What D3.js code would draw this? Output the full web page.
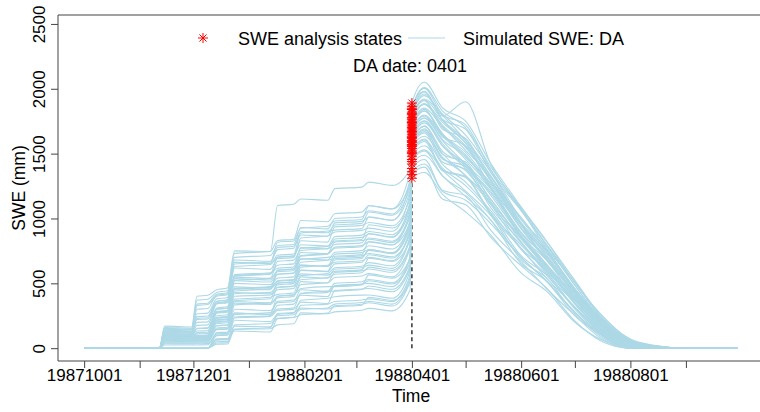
<!DOCTYPE html>
<html lang="en">
<head>
    <meta charset="UTF-8">
    <title>SWE DA 0401</title>
    <script src="https://cdn.jsdelivr.net/npm/d3@7"></script>
    <style>
        body { margin: 0; background: #fff; overflow: hidden; }
        text { font-family: "Liberation Sans", Arial, sans-serif; fill: #000; }
    </style>
</head>
<body>
<script>
    // knot dates of the ensemble before the update (open loop) and after it
    const preDates = ['19871001', '19871112', '19871115', '19871130', '19871203', '19871209', '19871214',
        '19871220', '19871224', '19880113', '19880117', '19880126', '19880130', '19880214', '19880218',
        '19880304', '19880308', '19880321', '19880331']
    const postDates = ['19880408', '19880418', '19880501', '19880515', '19880601', '19880615', '19880701',
        '19880715', '19880801', '19880815', '19880901', '19880930']
    const daDate = '19880401'

    const analysisStates = [1600, 1455, 1735, 1520, 1800, 1385, 1660, 1570, 1890, 1480, 1705, 1310, 1630, 1765, 1540,
        1840, 1420, 1690, 1585, 1750, 1500, 1865, 1615, 1340, 1720, 1555, 1780, 1645, 1820, 1675,
        1625, 1440, 1775, 1510, 1700, 1360, 1810, 1565, 1850, 1595, 1740, 1670]

    const forecastSWE = [
        [0, 0, 0, 0, 0, 0, 30, 32, 145, 150, 180, 188, 272, 265, 280, 292, 307, 288, 450],
        [0, 0, 0, 0, 0, 0, 64, 66, 133, 125, 227, 236, 258, 270, 327, 339, 350, 325, 515],
        [0, 0, 0, 0, 0, 0, 72, 75, 145, 160, 267, 275, 310, 302, 319, 331, 393, 368, 506],
        [0, 0, 0, 0, 0, 0, 64, 66, 215, 205, 260, 270, 370, 385, 397, 409, 410, 385, 599],
        [0, 0, 0, 0, 0, 0, 97, 100, 233, 245, 290, 300, 355, 345, 444, 456, 460, 435, 620],
        [0, 0, 34, 33, 34, 35, 101, 104, 271, 260, 301, 311, 423, 438, 440, 452, 479, 454, 636],
        [0, 0, 41, 39, 41, 42, 148, 152, 259, 274, 361, 371, 408, 398, 483, 495, 500, 475, 701],
        [0, 0, 48, 46, 48, 49, 156, 161, 271, 261, 401, 411, 460, 475, 475, 487, 565, 540, 692],
        [0, 0, 53, 51, 53, 54, 143, 147, 334, 349, 388, 398, 513, 503, 545, 557, 575, 550, 776],
        [0, 0, 58, 56, 58, 59, 173, 178, 347, 337, 400, 410, 490, 505, 584, 596, 610, 585, 780],
        [0, 0, 63, 60, 63, 64, 173, 178, 378, 393, 415, 425, 550, 540, 570, 582, 625, 600, 794],
        [0, 0, 68, 65, 68, 69, 215, 221, 359, 349, 468, 478, 528, 543, 608, 620, 640, 615, 850],
        [0, 0, 73, 70, 73, 74, 219, 226, 366, 381, 502, 512, 573, 563, 592, 604, 694, 669, 831],
        [0, 0, 78, 75, 78, 80, 206, 212, 429, 419, 488, 498, 625, 640, 662, 674, 700, 675, 915],
        [0, 0, 83, 80, 83, 85, 236, 243, 441, 456, 500, 510, 603, 593, 701, 713, 730, 705, 878],
        [0, 0, 88, 84, 88, 90, 236, 243, 473, 463, 515, 525, 663, 678, 690, 702, 754, 729, 934],
        [0, 0, 94, 90, 94, 96, 278, 286, 454, 469, 569, 579, 640, 630, 725, 737, 760, 735, 989],
        [0, 0, 99, 95, 99, 101, 282, 290, 460, 450, 602, 612, 685, 700, 709, 721, 823, 798, 971],
        [0, 0, 104, 100, 110, 112, 280, 288, 523, 538, 589, 599, 738, 728, 779, 791, 820, 795, 1055],
        [0, 0, 109, 105, 132, 135, 299, 308, 536, 526, 600, 610, 715, 730, 818, 830, 840, 815, 1017],
        [0, 0, 114, 109, 154, 157, 310, 319, 567, 582, 616, 626, 775, 765, 800, 812, 883, 858, 1073],
        [0, 0, 119, 114, 176, 180, 341, 351, 548, 538, 669, 679, 753, 768, 842, 854, 880, 855, 1129],
        [0, 0, 124, 119, 199, 203, 345, 355, 555, 570, 703, 713, 798, 788, 826, 838, 952, 927, 1110],
        [0, 0, 129, 124, 221, 225, 350, 360, 618, 608, 689, 699, 850, 865, 896, 908, 926, 901, 1194],
        [0, 0, 134, 129, 243, 248, 362, 373, 630, 645, 700, 710, 828, 818, 935, 947, 969, 944, 1157],
        [0, 0, 139, 133, 265, 270, 380, 391, 662, 652, 716, 726, 888, 903, 910, 922, 1012, 987, 1213],
        [0, 0, 146, 140, 300, 306, 408, 420, 649, 664, 776, 786, 873, 863, 966, 978, 1010, 985, 1278],
        [0, 0, 153, 147, 340, 347, 416, 428, 662, 652, 817, 827, 925, 940, 980, 992, 1098, 1073, 1268],
        [0, 0, 160, 154, 370, 377, 430, 443, 731, 746, 830, 840, 985, 975, 1037, 1049, 1100, 1075, 1361],
        [0, 0, 170, 163, 400, 408, 450, 464, 750, 745, 1100, 1110, 1150, 1140, 1230, 1242, 1280, 1255, 1380],
        [0, 0, 0, 0, 0, 0, 40, 42, 180, 190, 230, 238, 330, 340, 360, 372, 380, 360, 560],
        [0, 0, 25, 24, 25, 26, 120, 124, 300, 290, 350, 360, 450, 440, 500, 512, 530, 505, 700],
        [0, 0, 60, 58, 60, 62, 190, 196, 400, 410, 450, 460, 560, 575, 620, 632, 660, 635, 860],
        [0, 0, 90, 86, 90, 92, 250, 258, 500, 490, 540, 550, 690, 680, 740, 752, 790, 765, 960],
        [0, 0, 110, 106, 150, 153, 300, 310, 560, 575, 640, 650, 770, 785, 860, 872, 900, 875, 1100],
        [0, 0, 130, 125, 230, 235, 360, 371, 680, 670, 760, 770, 900, 890, 950, 962, 1050, 1025, 1240],
        [0, 0, 0, 0, 0, 0, 110, 114, 240, 250, 330, 340, 420, 430, 480, 492, 520, 495, 660],
        [0, 0, 70, 67, 70, 72, 200, 206, 420, 430, 470, 480, 600, 590, 650, 662, 720, 695, 900],
        [0, 0, 100, 96, 120, 123, 270, 278, 520, 510, 570, 580, 710, 725, 770, 782, 850, 825, 1040],
        [0, 0, 150, 144, 330, 337, 400, 412, 700, 715, 790, 800, 930, 920, 1000, 1012, 1060, 1035, 1300],
        [0, 0, 0, 0, 0, 0, 50, 52, 170, 165, 250, 258, 300, 310, 340, 352, 360, 340, 540],
        [0, 0, 80, 77, 80, 82, 230, 237, 460, 475, 520, 530, 640, 630, 680, 692, 760, 735, 950]
    ]

    const updatedSWE = [
        [1714, 1495, 1435, 1132, 855, 610, 375, 161, 20, 0, 0, 0],
        [1529, 1375, 1211, 1024, 682, 542, 269, 123, 0, 0, 0, 0],
        [1881, 1713, 1526, 1318, 963, 710, 457, 220, 43, 6, 0, 0],
        [1613, 1375, 1323, 1042, 794, 590, 312, 125, 6, 0, 0, 0],
        [1947, 1806, 1642, 1375, 996, 788, 485, 231, 55, 12, 0, 0],
        [1455, 1218, 1176, 910, 667, 462, 253, 83, 0, 0, 0, 0],
        [1776, 1638, 1456, 1234, 861, 682, 385, 197, 30, 0, 0, 0],
        [1682, 1503, 1330, 1150, 820, 598, 365, 161, 15, 0, 0, 0],
        [2050, 1855, 1750, 1426, 1090, 830, 523, 260, 70, 20, 0, 0],
        [1561, 1390, 1253, 1042, 713, 566, 302, 115, 0, 0, 0, 0],
        [1841, 1630, 1561, 1240, 947, 682, 434, 199, 38, 4, 0, 0],
        [1354, 1188, 1050, 874, 580, 442, 200, 70, 0, 0, 0, 0],
        [1754, 1578, 1400, 1210, 871, 638, 398, 182, 25, 0, 0, 0],
        [1909, 1690, 1617, 1294, 1008, 758, 451, 213, 48, 9, 0, 0],
        [1634, 1473, 1330, 1108, 769, 610, 339, 138, 10, 0, 0, 0],
        [2003, 1803, 1722, 1378, 1065, 774, 510, 247, 61, 16, 0, 0],
        [1487, 1330, 1169, 988, 651, 518, 250, 110, 0, 0, 0, 0],
        [1827, 1656, 1474, 1273, 924, 680, 433, 204, 36, 3, 0, 0],
        [1691, 1458, 1400, 1108, 850, 634, 349, 148, 17, 0, 0, 0],
        [1887, 1743, 1582, 1324, 952, 754, 457, 213, 46, 8, 0, 0],
        [1594, 1368, 1316, 1030, 769, 542, 319, 125, 3, 0, 0, 0],
        [1980, 1790, 1900, 1420, 1080, 826, 504, 270, 66, 18, 0, 0],
        [1737, 1563, 1386, 1198, 861, 630, 391, 178, 23, 0, 0, 0],
        [1396, 1150, 1106, 856, 636, 466, 210, 60, 0, 0, 0, 0],
        [1851, 1705, 1547, 1294, 927, 734, 441, 203, 41, 6, 0, 0],
        [1659, 1435, 1379, 1084, 815, 578, 349, 144, 12, 0, 0, 0],
        [1921, 1795, 1603, 1360, 968, 766, 454, 241, 51, 10, 0, 0],
        [1773, 1600, 1421, 1228, 886, 650, 408, 188, 28, 0, 0, 0],
        [1976, 1765, 1687, 1354, 1059, 798, 484, 234, 58, 14, 0, 0],
        [1797, 1645, 1491, 1246, 886, 702, 415, 186, 33, 2, 0, 0],
        [1750, 1560, 1420, 1180, 860, 650, 380, 175, 24, 0, 0, 0],
        [1520, 1330, 1200, 990, 700, 520, 280, 105, 0, 0, 0, 0],
        [1915, 1760, 1600, 1330, 990, 760, 460, 225, 50, 9, 0, 0],
        [1605, 1420, 1280, 1060, 760, 565, 315, 130, 4, 0, 0, 0],
        [1830, 1650, 1510, 1260, 920, 700, 425, 200, 37, 3, 0, 0],
        [1420, 1210, 1140, 960, 700, 520, 270, 95, 0, 0, 0, 0],
        [1960, 1760, 1580, 1290, 950, 720, 430, 200, 40, 6, 0, 0],
        [1670, 1470, 1370, 1120, 810, 610, 350, 150, 14, 0, 0, 0],
        [2010, 1830, 1700, 1400, 1070, 805, 505, 250, 63, 16, 0, 0],
        [1710, 1520, 1410, 1150, 840, 625, 370, 165, 19, 0, 0, 0],
        [1880, 1720, 1560, 1300, 955, 745, 445, 212, 44, 7, 0, 0],
        [1790, 1610, 1480, 1230, 895, 690, 410, 190, 32, 1, 0, 0]
    ]

    const xTicks = ['19871001', '19871101', '19871201', '19880101', '19880201', '19880301', '19880401',
        '19880501', '19880601', '19880701', '19880801', '19880901']
    const xLabels = ['19871001', '19871201', '19880201', '19880401', '19880601', '19880801']
    const yTicks = [0, 500, 1000, 1500, 2000, 2500]
    const xLim = ['19871001', '19880930']
    const yLim = [0, 2470]

    const [width, height] = [760, 412]
    const plot = {left: 58, right: 764, top: 15, bottom: 361}
    const parse = d3.utcParse('%Y%m%d')
    const lineColor = '#add8e6'
    const axisColor = '#444'

    const svg = d3.select('body')
        .append('svg')
            .attr('width', width)
            .attr('height', height)

    // R style limits: 4% padding on both axes
    const xPad = (parse(xLim[1]) - parse(xLim[0])) * 0.04
    const x = d3.scaleUtc()
        .domain([new Date(+parse(xLim[0]) - xPad), new Date(+parse(xLim[1]) + xPad)])
        .range([plot.left, plot.right])
    const yPad = (yLim[1] - yLim[0]) * 0.04
    const y = d3.scaleLinear()
        .domain([yLim[0] - yPad, yLim[1] + yPad])
        .range([plot.bottom, plot.top])

    const renderAxes = () => {
        const xAxis = d3.axisBottom(x)
            .tickValues(xTicks.map(parse))
            .tickSize(7)
            .tickSizeOuter(0)
            .tickFormat(d => {
                const s = d3.utcFormat('%Y%m%d')(d)
                return xLabels.includes(s) ? s : ''
            })
        const gx = svg.append('g').attr('class', 'x-axis')
            .attr('transform', `translate(0, ${plot.bottom})`)
            .call(xAxis)
        gx.select('.domain').remove()
        gx.selectAll('line').attr('stroke', axisColor)
        gx.selectAll('text').attr('y', 20).attr('dy', 0).style('font-size', '17px')

        const yAxis = d3.axisLeft(y).tickValues(yTicks).tickSize(7).tickSizeOuter(0)
            .tickFormat(d3.format('d'))
        const gy = svg.append('g').attr('class', 'y-axis')
            .attr('transform', `translate(${plot.left}, 0)`)
            .call(yAxis)
        gy.select('.domain').remove()
        gy.selectAll('line').attr('stroke', axisColor)
        gy.selectAll('text')
            .attr('x', 0).attr('dy', 0)
            .attr('text-anchor', 'middle')
            .attr('transform', 'translate(-13, 0) rotate(-90)')
            .style('font-size', '17px')

        // box: top, left and bottom edges (the right edge falls outside the picture)
        const edges = [
            [plot.left, plot.top, plot.right, plot.top],
            [plot.left, plot.top, plot.left, plot.bottom],
            [plot.left, plot.bottom, plot.right, plot.bottom]
        ]
        svg.append('g').selectAll('line')
            .data(edges)
            .join('line')
                .attr('x1', d => d[0]).attr('y1', d => d[1])
                .attr('x2', d => d[2]).attr('y2', d => d[3])
                .attr('stroke', axisColor)
                .attr('stroke-width', 1)

        svg.append('text').text('SWE (mm)')
            .attr('transform', `translate(25, ${(plot.top + plot.bottom) / 2}) rotate(-90)`)
            .attr('text-anchor', 'middle').style('font-size', '17.5px')
        svg.append('text').text('Time')
            .attr('x', (plot.left + plot.right) / 2).attr('y', 402)
            .attr('text-anchor', 'middle').style('font-size', '17.5px')
    }

    const asterisk = (cx, cy, r) => {
        const q = r * Math.SQRT1_2
        return `M${cx - r},${cy}L${cx + r},${cy}M${cx},${cy - r}L${cx},${cy + r}` +
            `M${cx - q},${cy - q}L${cx + q},${cy + q}M${cx - q},${cy + q}L${cx + q},${cy - q}`
    }

    const renderEnsemble = () => {
        const xDA = x(parse(daDate))
        svg.append('line')
            .attr('x1', xDA).attr('x2', xDA)
            .attr('y1', y(0)).attr('y2', y(d3.min(analysisStates)))
            .attr('stroke', '#333').attr('stroke-width', 1.5).attr('stroke-dasharray', '4,3')

        const members = forecastSWE.map((row, i) => [
            ...preDates.map((d, j) => ({date: parse(d), value: row[j]})),
            {date: parse(daDate), value: analysisStates[i]},
            ...postDates.map((d, j) => ({date: parse(d), value: updatedSWE[i][j]}))
        ])
        const line = d3.line()
            .x(d => x(d.date))
            .y(d => y(d.value))
            .curve(d3.curveMonotoneX)
        svg.append('g').selectAll('path')
            .data(members)
            .join('path')
                .attr('d', line)
                .attr('fill', 'none')
                .attr('stroke', lineColor)
                .attr('stroke-width', 1.1)

        svg.append('g').selectAll('path')
            .data(analysisStates)
            .join('path')
                .attr('d', d => asterisk(xDA, y(d), 5))
                .attr('stroke', 'red')
                .attr('stroke-width', 1)
    }

    const renderLegend = () => {
        svg.append('path').attr('d', asterisk(203, 38, 5)).attr('stroke', 'red').attr('stroke-width', 1)
        svg.append('text').text('SWE analysis states').attr('x', 238).attr('y', 45).style('font-size', '18px')
        svg.append('line').attr('x1', 408).attr('x2', 445).attr('y1', 38).attr('y2', 38)
            .attr('stroke', lineColor).attr('stroke-width', 1.2)
        svg.append('text').text('Simulated SWE: DA').attr('x', 463).attr('y', 45).style('font-size', '18px')
        svg.append('text').text('DA date: ' + daDate.slice(4))
            .attr('x', 410).attr('y', 72).attr('text-anchor', 'middle').style('font-size', '18px')
    }

    renderAxes()
    renderEnsemble()
    renderLegend()
</script>
</body>
</html>
